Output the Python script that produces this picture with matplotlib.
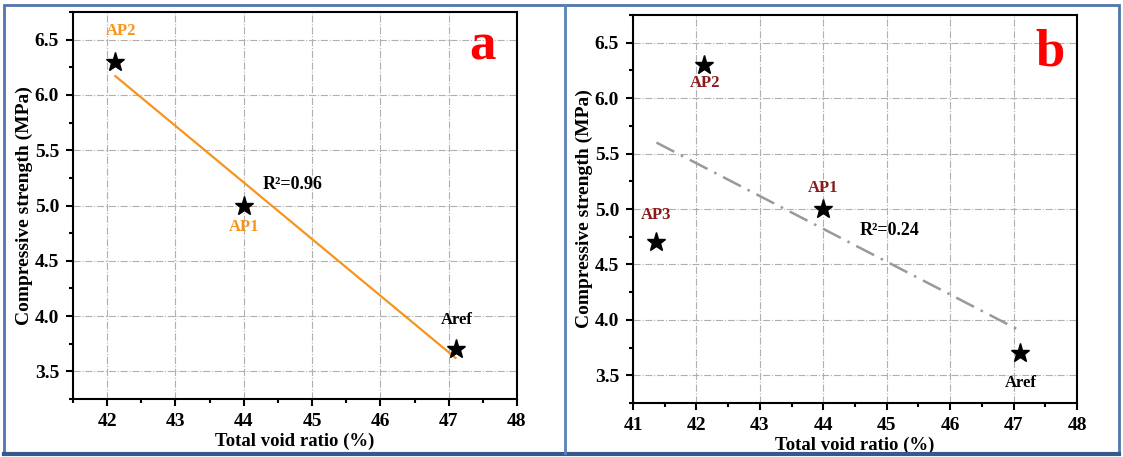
import matplotlib
matplotlib.use("Agg")
import matplotlib.pyplot as plt
import numpy as np
from matplotlib.patches import Rectangle
from matplotlib.lines import Line2D
from matplotlib.ticker import MultipleLocator

plt.rcParams['font.family'] = ['Liberation Serif', 'DejaVu Serif']
plt.rcParams['font.weight'] = 'bold'

# Data
names_a = ["AP2", "AP1", "Aref"]
void_a = [42.12, 44.0, 47.1]
strength_a = [6.3, 5.0, 3.7]
r2_a = "R²=0.96"

names_b = ["AP3", "AP2", "AP1", "Aref"]
void_b = [41.37, 42.12, 44.0, 47.1]
strength_b = [4.7, 6.3, 5.0, 3.7]
r2_b = "R²=0.24"

x_ticks_a = [42, 43, 44, 45, 46, 47, 48]
x_ticks_b = [41, 42, 43, 44, 45, 46, 47, 48]
y_ticks = [3.5, 4.0, 4.5, 5.0, 5.5, 6.0, 6.5]

ORANGE = '#f7941d'
DARKRED = '#8b1a1a'

W, H = 1123, 457
fig = plt.figure(figsize=(W / 100, H / 100), dpi=100)


def px_axes(l, t, r, b):
    return fig.add_axes([l / W, 1 - b / H, (r - l) / W, (b - t) / H])


def style(ax, xlim, xticks):
    ax.set_xlim(*xlim)
    ax.set_ylim(3.25, 6.75)
    ax.set_xticks(xticks)
    ax.set_yticks(y_ticks)
    ax.xaxis.set_minor_locator(MultipleLocator(0.5))
    ax.yaxis.set_minor_locator(MultipleLocator(0.25))
    ax.tick_params(which='both', direction='out', top=False, right=False, width=1.5)
    ax.tick_params(which='major', length=5, labelsize=14, pad=5)
    ax.tick_params(which='minor', length=3)
    for lab in ax.get_xticklabels() + ax.get_yticklabels():
        lab.set_fontweight('bold')
    for s in ax.spines.values():
        s.set_linewidth(1.5)
    ax.grid(True, which='major', color='#b0b0b0', linestyle='-.', linewidth=0.8)
    ax.set_axisbelow(True)
    ax.set_xlabel("Total void ratio (%)", fontsize=13.5, fontweight='bold', labelpad=2)
    ax.set_ylabel("Compressive strength (MPa)", fontsize=14, fontweight='bold', labelpad=1)


# Panel a
axa = px_axes(73, 12, 517, 399)
style(axa, (41.5, 48), x_ticks_a)
ka, ba = np.polyfit(void_a, strength_a, 1)
xa = np.array([min(void_a), max(void_a)])
axa.plot(xa, ka * xa + ba, color=ORANGE, lw=1.6, zorder=2)
axa.plot(void_a, strength_a, linestyle='none', marker='*', color='black', ms=14, zorder=3)
label_pos_a = {"AP2": (42.2, 6.58), "AP1": (44.0, 4.81), "Aref": (47.12, 3.96)}
label_col_a = {"AP2": ORANGE, "AP1": ORANGE, "Aref": 'black'}
for n in names_a:
    axa.text(*label_pos_a[n], n, color=label_col_a[n], fontsize=12, fontweight='bold',
             ha='center', va='center')
axa.text(44.72, 5.19, r2_a, fontsize=13, fontweight='bold', ha='center', va='center')
axa.text(0.923, 0.876, "a", transform=axa.transAxes, color='red', fontsize=38,
         fontweight='bold', ha='center', va='baseline')

# Panel b
axb = px_axes(633, 15, 1077, 403)
style(axb, (41, 48), x_ticks_b)
kb, bb = np.polyfit(void_b, strength_b, 1)
xb = np.array([min(void_b), max(void_b)])
axb.plot(xb, kb * xb + bb, color='#999999', lw=1.8, linestyle=(0, (8, 3, 1, 3)), zorder=2)
axb.plot(void_b, strength_b, linestyle='none', marker='*', color='black', ms=14, zorder=3)
label_pos_b = {"AP3": (41.36, 4.95), "AP2": (42.14, 6.14), "AP1": (44.0, 5.19), "Aref": (47.12, 3.43)}
label_col_b = {"AP3": DARKRED, "AP2": DARKRED, "AP1": DARKRED, "Aref": 'black'}
for n in names_b:
    axb.text(*label_pos_b[n], n, color=label_col_b[n], fontsize=12, fontweight='bold',
             ha='center', va='center')
axb.text(45.04, 4.81, r2_b, fontsize=13, fontweight='bold', ha='center', va='center')
axb.text(0.939, 0.871, "b", transform=axb.transAxes, color='red', fontsize=38,
         fontweight='bold', ha='center', va='baseline')

# Outer frame and divider
fig.add_artist(Rectangle((4 / W, 4 / H), (W - 8) / W, (H - 9) / H, transform=fig.transFigure,
                         fill=False, edgecolor='#4f76ad', lw=2))
fig.add_artist(Line2D([4 / W, (W - 4) / W], [3 / H, 3 / H], transform=fig.transFigure,
                      color='#35598a', lw=3))
fig.add_artist(Line2D([565 / W, 565 / W], [4 / H, (H - 5) / H], transform=fig.transFigure,
                      color='#5b82bb', lw=2))

fig.savefig("out.png", dpi=100)
